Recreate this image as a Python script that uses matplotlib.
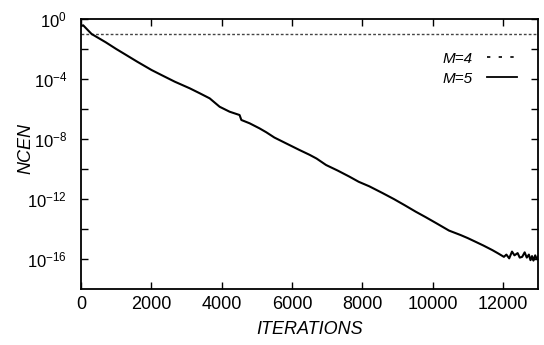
import matplotlib
matplotlib.use("Agg")
import matplotlib.pyplot as plt
from matplotlib.lines import Line2D
import numpy as np

plt.rcParams['font.family'] = ['Liberation Sans', 'DejaVu Sans']
plt.rcParams['mathtext.fontset'] = 'custom'
plt.rcParams['mathtext.rm'] = 'Liberation Sans'
plt.rcParams['mathtext.it'] = 'Liberation Sans:italic'

# M=4 stays flat
m4_iter = [0, 13000]
m4_ncen = [1e-1, 1e-1]

# M=5: log10(NCEN)
m5_iter = [0, 60, 300, 700, 1000, 1248, 1600, 2005, 2300, 2667, 3092, 3376,
           3660, 3943, 4227, 4510, 4560, 4794, 5078, 5270, 5500, 5800, 6213,
           6500, 6700, 6970, 7300, 7630, 7900, 8200, 8577, 8900, 9200, 9520,
           9800, 10100, 10468, 10800, 11000, 11226, 11450, 11700, 11850,
           12030, 12100, 12180, 12260, 12330, 12420, 12480, 12550, 12620,
           12680, 12740, 12785, 12830, 12870, 12920, 12960, 13000]
m5_log = [-0.48, -0.42, -1.0, -1.55, -2.0, -2.35, -2.85, -3.4, -3.75, -4.18,
          -4.62, -4.95, -5.29, -5.85, -6.18, -6.4, -6.73, -6.95, -7.29,
          -7.55, -7.9, -8.25, -8.73, -9.05, -9.3, -9.73, -10.1, -10.5,
          -10.85, -11.15, -11.6, -12.0, -12.4, -12.84, -13.2, -13.6, -14.1,
          -14.4, -14.6, -14.85, -15.1, -15.4, -15.6, -15.85, -15.7, -15.95,
          -15.5, -15.75, -15.6, -15.9, -15.85, -15.55, -15.9, -15.7, -16.07,
          -15.8, -16.1, -15.75, -16.0, -15.85]

fig = plt.figure(figsize=(5.44, 3.45), dpi=100)
ax = fig.add_axes([0.149, 0.162, 0.84, 0.783])

ax.plot(m4_iter, m4_ncen, color='#444444', lw=1.0, ls=(0, (2, 1.5)))
ax.plot(m5_iter, 10.0 ** np.array(m5_log), color='black', lw=1.5)

ax.set_yscale('log')
ax.set_xlim(0, 13000)
ax.set_ylim(1e-18, 1)
ax.set_xticks(range(0, 12001, 2000))
yt = [10.0 ** (-k) for k in range(0, 18, 2)]
ax.set_yticks(yt)
ax.set_yticklabels(['$10^{%d}$' % (-k) if k % 4 == 0 else '' for k in range(0, 18, 2)])
ax.minorticks_off()
ax.tick_params(direction='in', top=True, right=True, length=5, width=1)
ax.tick_params(axis='y', pad=10, labelsize=12)
ax.tick_params(axis='x', pad=5, labelsize=13)
for s in ax.spines.values():
    s.set_linewidth(1.3)

ax.set_xlabel('ITERATIONS', fontstyle='italic', fontsize=13, labelpad=6)
ax.set_ylabel('NCEN', fontstyle='italic', fontsize=13)
ax.yaxis.set_label_coords(-0.103, 0.52)

handles = [Line2D([], [], color='black', lw=1.2, ls=(0, (2, 5))),
           Line2D([], [], color='black', lw=1.3)]
ax.legend(handles, ['M=4', 'M=5'], loc='upper right',
          bbox_to_anchor=(0.985, 0.93), frameon=False, markerfirst=False,
          prop={'style': 'italic', 'size': 11}, handlelength=2.0,
          handletextpad=0.9, labelspacing=0.4)

fig.savefig('out.png', dpi=100)
